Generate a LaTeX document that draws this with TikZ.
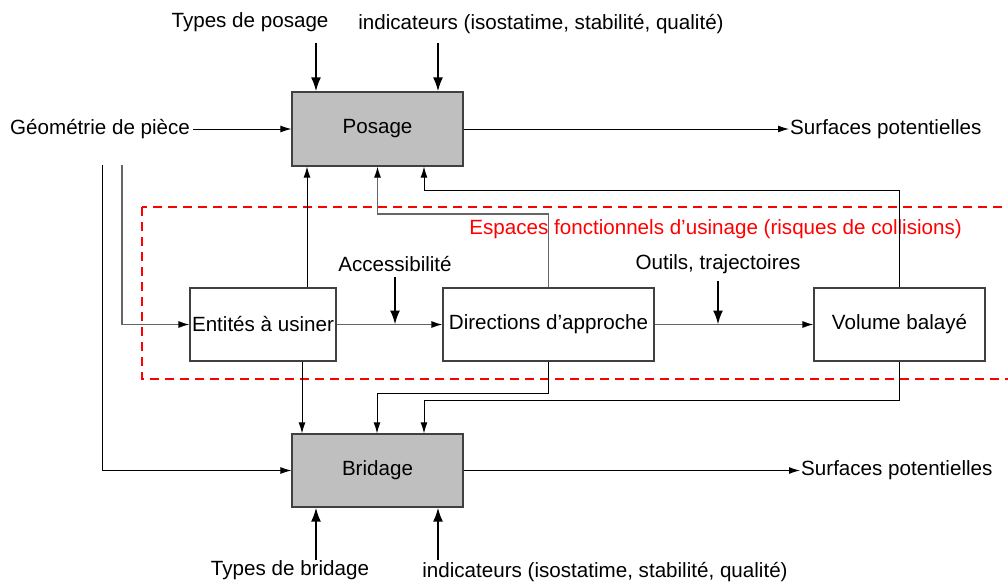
\documentclass[tikz,border=0pt]{standalone}
\usepackage{fontspec}
\setmainfont{Liberation Sans}
\usetikzlibrary{arrows.meta,calc}
\begin{document}
\begin{tikzpicture}[x=1pt,y=-1pt,
 every node/.style={font=\fontsize{20.6}{24}\selectfont, inner sep=1pt},
 grbox/.style={draw=black!75, fill=black!25, line width=1.2pt, minimum width=171pt, minimum height=74pt},
 wbox/.style={draw=black!75, fill=white, line width=1.2pt, minimum height=73pt},
 conn/.style={line width=1pt, -{Latex[length=11pt,width=7pt,color=black]}},
 connG/.style={conn, draw=black!60, line width=1.2pt},
 inarr/.style={line width=2pt, -{Latex[length=14pt,width=10pt]}},
 zone/.style={draw=red, line width=1.8pt, dash pattern=on 9pt off 6pt}
]
\useasboundingbox (0,0) rectangle (1008,583);
% zone
\draw[zone] (142,207) rectangle (1030,379);
\node[anchor=east, text=red] (zlab) at (963,229) {Espaces fonctionnels d’usinage (risques de collisions)};
% boxes
\node[grbox] (posage) at (377.5,129) {Posage};
\node[grbox, minimum height=73pt] (bridage) at (377.5,470.5) {Bridage};
\node[wbox, minimum width=146pt] (entites) at (263,324.5) {Entités à usiner};
\node[wbox, minimum width=211pt] (directions) at (548.5,324.5) {Directions d’approche};
\node[wbox, minimum width=171pt] (volume) at (899.5,324.5) {Volume balayé};
% labels
\node[anchor=west, inner xsep=3pt] (geo) at (7,129) {Géométrie de pièce};
\node[anchor=west] (surfP) at (789,129) {Surfaces potentielles};
\node[anchor=west] (surfB) at (800,470.5) {Surfaces potentielles};
\node (tp) at (250,22) {Types de posage};
\node (ip) at (541,24) {indicateurs (isostatime, stabilité, qualité)};
\node (tb) at (290,570) {Types de bridage};
\node (ib) at (605,572) {indicateurs (isostatime, stabilité, qualité)};
\node (acc) at (395,264) {Accessibilité};
\node (out) at (718,264) {Outils, trajectoires};
% coordinates
\coordinate (tpA) at (316,43);
\coordinate (ipA) at (438,43);
\coordinate (tbA) at (316,560);
\coordinate (ibA) at (438,560);
\coordinate (accA) at (395,277);
\coordinate (outA) at (718,281);
\coordinate (g1) at (102,165);
\coordinate (g2) at (122,165);
\coordinate (dp) at (377.5,214);
\coordinate (vp) at (424,190);
\coordinate (db) at (377,393);
\coordinate (vb) at (424,400);
% main flow
\draw[conn] (geo.east) -- (posage.west);
\draw[conn] (posage.east) -- (surfP.west);
\draw[conn] (bridage.east) -- (surfB.west);
\draw[conn] (g1) |- (bridage.west);
\draw[connG] (g2) |- (entites.west);
\draw[conn] ([xshift=44pt]entites.north) -- ([xshift=44pt]entites.north |- posage.south);
\draw[conn] ([xshift=39pt]entites.south) -- ([xshift=39pt]entites.south |- bridage.north);
\draw[connG] (entites.east) -- (directions.west);
\draw[connG] (directions.east) -- (volume.west);
\draw[connG] (directions.north) |- (dp) -- (dp |- posage.south);
\draw[conn] (volume.north) |- (vp) -- (vp |- posage.south);
\draw[conn] (directions.south) |- (db) -- (db |- bridage.north);
\draw[conn] (volume.south) |- (vb) -- (vb |- bridage.north);
% inputs
\draw[inarr] (tpA) -- (tpA |- posage.north);
\draw[inarr] (ipA) -- (ipA |- posage.north);
\draw[inarr] (tbA) -- (tbA |- bridage.south);
\draw[inarr] (ibA) -- (ibA |- bridage.south);
\draw[inarr] (accA) -- (accA |- entites.east);
\draw[inarr] (outA) -- (outA |- directions.east);
\end{tikzpicture}
\end{document}
